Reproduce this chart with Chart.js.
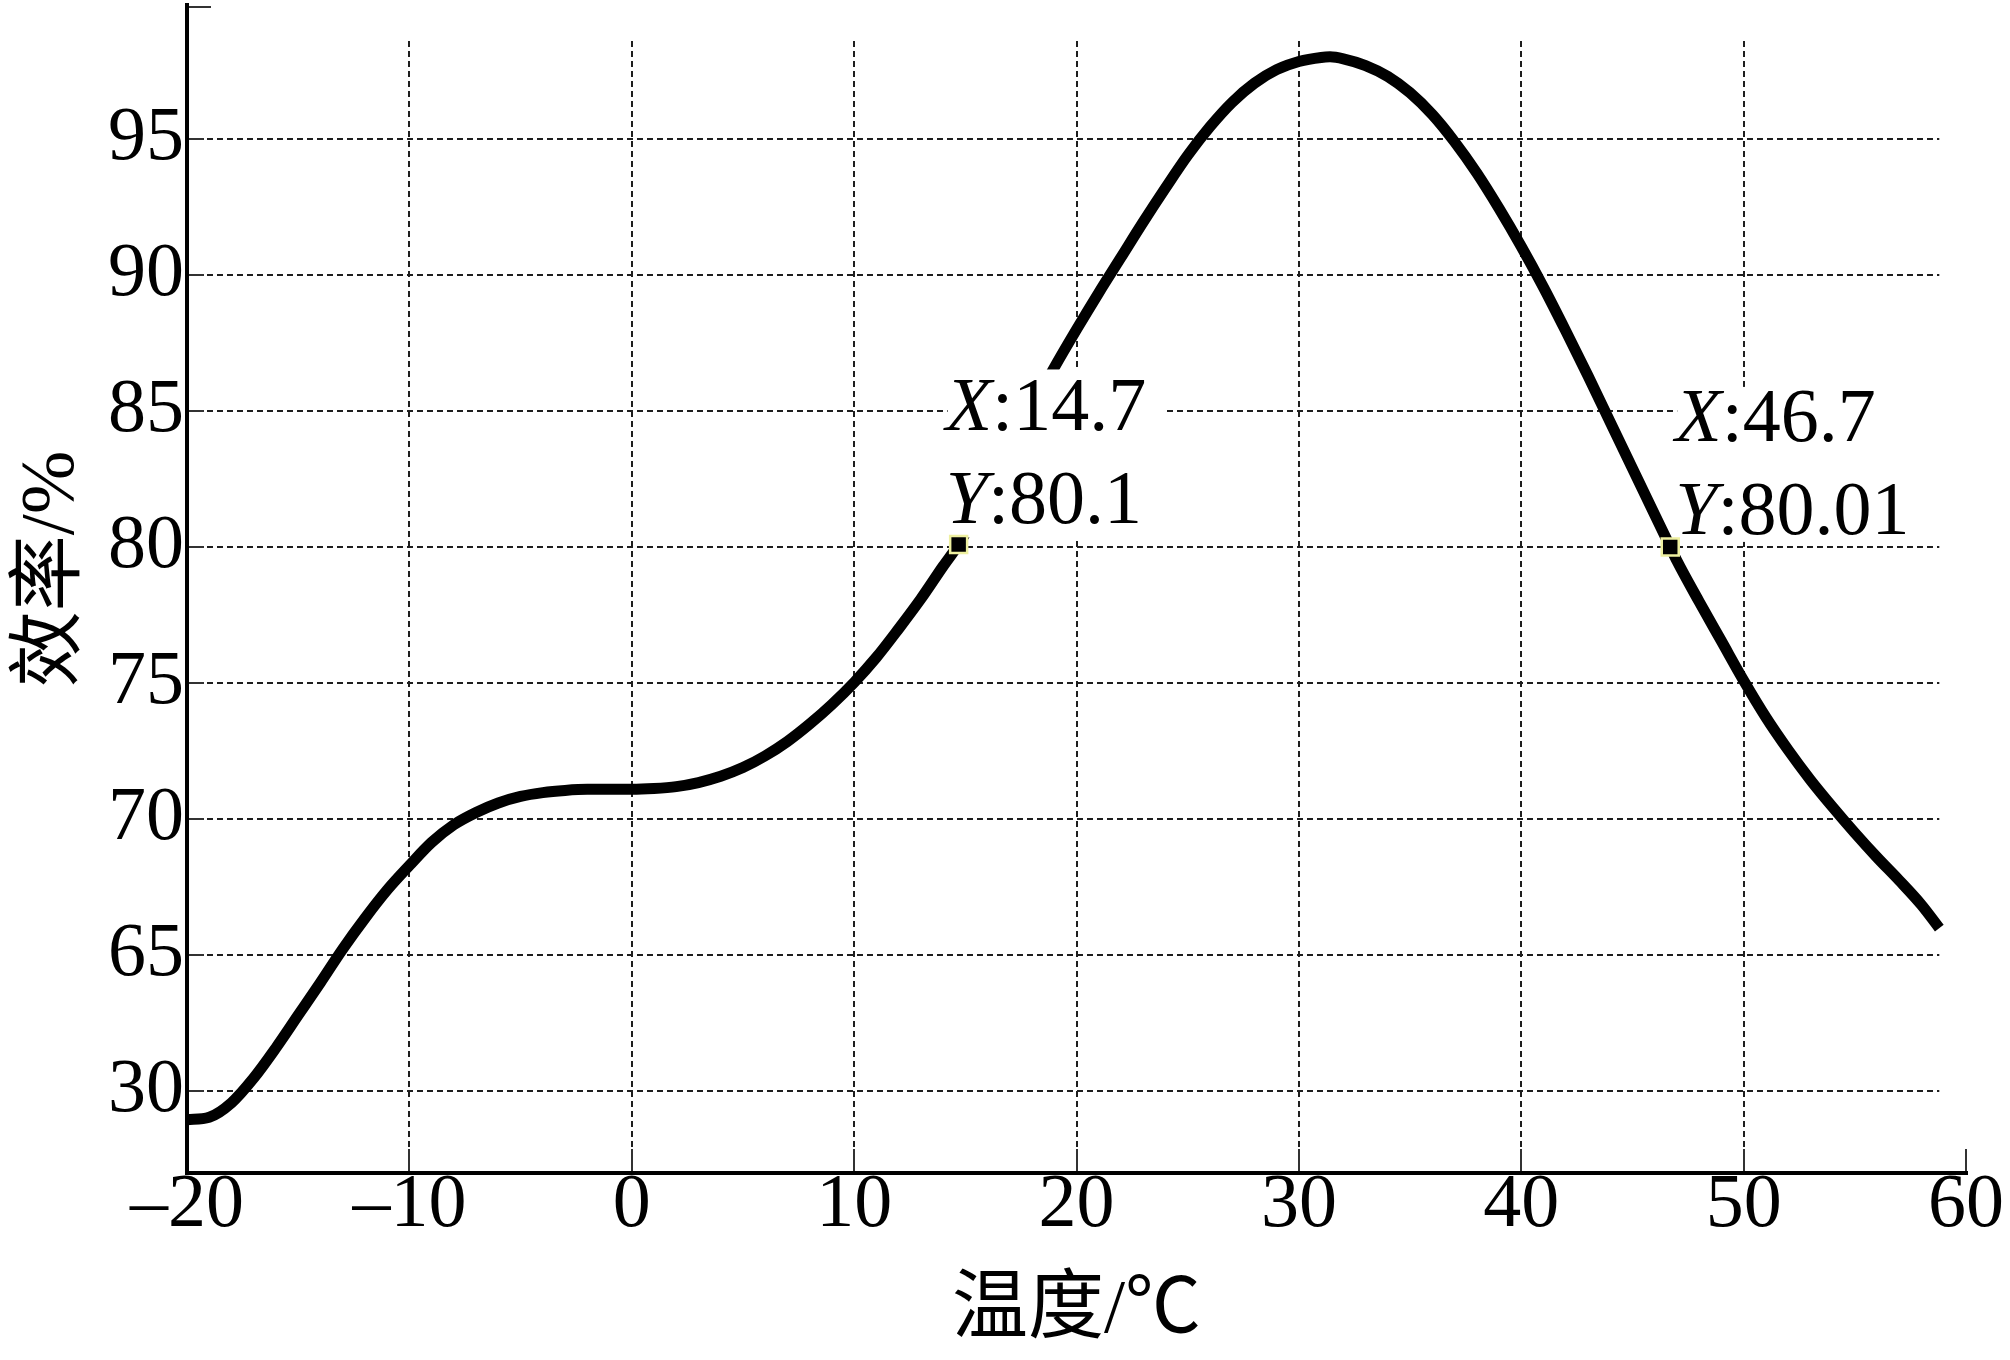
<!DOCTYPE html>
<html>
<head>
<meta charset="utf-8">
<script src="https://cdn.jsdelivr.net/npm/chart.js@4.4.1/dist/chart.umd.min.js"></script>
<style>
  html, body { margin: 0; padding: 0; background: #fff; }
  #effChartWrapper { width: 2010px; height: 1360px; }
</style>
</head>
<body>
<div id="effChartWrapper"><canvas id="effChart" width="2010" height="1360"></canvas></div>
<script>
// temperature along the curve, deg C
const temps = [-20, -19, -18, -17, -16, -15, -14, -13, -12, -11, -10, -9, -8, -7, -6, -5, -4, -3, -2, -1,
  0, 1, 2, 3, 4, 5, 6, 7, 8, 9, 10, 11, 12, 13, 14, 14.7, 15, 16, 17, 18, 19,
  20, 21, 22, 23, 24, 25, 26, 27, 28, 29, 30, 31, 31.4, 32, 33, 34, 35, 36, 37, 38, 39,
  40, 41, 42, 43, 44, 45, 46, 46.7, 47, 48, 49, 50, 51, 52, 53, 54, 55, 56, 57, 58, 58.8];
// efficiency in axis units (the bottom "30" tick sits where 60 would be)
const effs = [58.96, 59.05, 59.58, 60.49, 61.6, 62.8, 64.0, 65.23, 66.36, 67.4, 68.3, 69.15, 69.8, 70.25, 70.6, 70.84, 70.98, 71.06, 71.1, 71.1,
  71.1, 71.13, 71.2, 71.35, 71.58, 71.9, 72.33, 72.86, 73.5, 74.22, 75.03, 75.95, 77.0, 78.1, 79.3, 80.1, 80.5, 82.0, 83.55, 85.1, 86.6,
  88.0, 89.35, 90.65, 91.95, 93.2, 94.4, 95.45, 96.35, 97.05, 97.55, 97.85, 98.0, 98.02, 97.95, 97.7, 97.3, 96.7, 95.9, 94.9, 93.75, 92.45,
  91.05, 89.55, 87.95, 86.3, 84.6, 82.9, 81.2, 80.01, 79.5, 78.0, 76.55, 75.1, 73.75, 72.55, 71.45, 70.45, 69.5, 68.6, 67.75, 66.85, 66.0];

const xTicks = [-20, -10, 0, 10, 20, 30, 40, 50, 60];
const xTickLabels = ['–20', '–10', '0', '10', '20', '30', '40', '50', '60'];
const yTicks = [60, 65, 70, 75, 80, 85, 90, 95];
const yTickLabels = ['30', '65', '70', '75', '80', '85', '90', '95'];

// data tips
const markX = [14.7, 46.7];
const markY = [80.1, 80.01];
const markXText = ['14.7', '46.7'];
const markYText = ['80.1', '80.01'];

const SERIF = '"Liberation Serif", "Noto Sans CJK SC", serif';
const GRID_END = 58.8;   // horizontal grid stops short of 60
const GRID_TOP = 98.6;   // vertical grid starts below the top of the axis
// text offset from marker + white box margins, px
const tipStyle = [
  {dx: -13, dy: -114, top: 61, bottom: 14, right: 16},
  {dx: 5, dy: -106, top: 54, bottom: 8, right: 40}
];

function line(ctx, x1, y1, x2, y2) {
  ctx.beginPath();
  ctx.moveTo(x1, y1);
  ctx.lineTo(x2, y2);
  ctx.stroke();
}

const framePlugin = {
  id: 'frame',
  beforeDatasetsDraw(chart) {
    const {ctx, scales: {x, y}} = chart;
    ctx.save();
    ctx.strokeStyle = '#1e1e1e';
    ctx.lineWidth = 2;
    ctx.setLineDash([6, 4]);
    yTicks.forEach(v => {
      const py = Math.round(y.getPixelForValue(v));
      line(ctx, x.getPixelForValue(-20), py, x.getPixelForValue(GRID_END), py);
    });
    xTicks.forEach(v => {
      if (v <= -20 || v > GRID_END) return;
      const px = Math.round(x.getPixelForValue(v));
      line(ctx, px, y.getPixelForValue(GRID_TOP), px, y.getPixelForValue(57));
    });
    ctx.restore();
  },
  afterDatasetDraw(chart, args) {
    // white data-tip boxes go over the curve, under the markers
    if (args.index !== 0) return;
    const {ctx, scales: {x, y}} = chart;
    ctx.save();
    markX.forEach((mx, i) => {
      const st = tipStyle[i];
      const tx = x.getPixelForValue(mx) + st.dx;
      const b1 = y.getPixelForValue(markY[i]) + st.dy;
      const b2 = b1 + 93;
      const rows = [['X', ':' + markXText[i], b1], ['Y', ':' + markYText[i], b2]];
      let maxW = 0;
      rows.forEach(r => {
        ctx.font = 'italic 76px ' + SERIF;
        let w = ctx.measureText(r[0]).width;
        ctx.font = '76px ' + SERIF;
        w += ctx.measureText(r[1]).width;
        maxW = Math.max(maxW, w);
      });
      ctx.fillStyle = '#fff';
      ctx.fillRect(tx + 2, b1 - st.top, maxW + st.right, b2 + st.bottom - (b1 - st.top));
      ctx.fillStyle = '#000';
      ctx.textBaseline = 'alphabetic';
      rows.forEach(r => {
        ctx.font = 'italic 76px ' + SERIF;
        ctx.fillText(r[0], tx, r[2]);
        const w = ctx.measureText(r[0]).width;
        ctx.font = '76px ' + SERIF;
        ctx.fillText(r[1], tx + w, r[2]);
      });
    });
    ctx.restore();
  },
  afterDatasetsDraw(chart) {
    const {ctx, chartArea: a, scales: {x, y}} = chart;
    ctx.save();
    ctx.strokeStyle = '#333';
    ctx.lineWidth = 2;
    xTicks.forEach(v => {
      const px = Math.round(x.getPixelForValue(v));
      line(ctx, px, a.bottom, px, a.bottom - 24);
    });
    yTicks.forEach(v => {
      const py = Math.round(y.getPixelForValue(v));
      line(ctx, a.left, py, a.left + 17, py);
    });
    line(ctx, a.left, a.top + 4, a.left + 24, a.top + 4);
    ctx.strokeStyle = '#000';
    ctx.lineWidth = 4;
    line(ctx, a.left, a.top, a.left, a.bottom + 2);
    line(ctx, a.left - 2, a.bottom, a.right + 2, a.bottom);
    ctx.restore();
  }
};

const chartData = {
  datasets: [{
    label: 'efficiency',
    data: temps.map((t, i) => ({x: t, y: effs[i]})),
    borderColor: '#000',
    borderWidth: 11,
    pointRadius: 0,
    fill: false,
    cubicInterpolationMode: 'monotone',
    order: 0
  }, {
    label: 'tips',
    data: markX.map((t, i) => ({x: t, y: markY[i]})),
    showLine: false,
    pointStyle: 'rect',
    pointRadius: 12,
    pointBackgroundColor: '#000',
    pointBorderColor: '#eef0a0',
    pointBorderWidth: 2.5,
    clip: false,
    order: -1
  }]
};

const config = {
  type: 'line',
  data: chartData,
  plugins: [framePlugin],
  options: {
    responsive: false,
    animation: false,
    devicePixelRatio: 1,
    events: [],
    layout: {autoPadding: false, padding: {top: 3, right: 44, bottom: 0, left: 0}},
    plugins: {legend: {display: false}, tooltip: {enabled: false}},
    scales: {
      x: {
        type: 'linear',
        min: -20,
        max: 60,
        afterBuildTicks: s => { s.ticks = xTicks.map(v => ({value: v})); },
        afterFit: s => { s.height = 187; s.paddingLeft = 0; s.paddingRight = 0; },
        grid: {display: false, drawTicks: false},
        border: {display: false},
        ticks: {
          callback: v => xTickLabels[xTicks.indexOf(v)],
          color: '#000',
          font: {family: SERIF, size: 76, lineHeight: 0.86},
          padding: 0,
          maxRotation: 0
        },
        title: {
          display: true,
          text: '温度/℃',
          color: '#000',
          font: {family: SERIF, size: 76, lineHeight: 1.2},
          padding: {top: 0, bottom: 2}
        }
      },
      y: {
        type: 'linear',
        min: 57,
        max: 100,
        afterBuildTicks: s => { s.ticks = yTicks.map(v => ({value: v})); },
        afterFit: s => { s.width = 187; s.paddingTop = 0; s.paddingBottom = 0; },
        grid: {display: false, drawTicks: false},
        border: {display: false},
        ticks: {
          callback: v => yTickLabels[yTicks.indexOf(v)],
          color: '#000',
          font: {family: SERIF, size: 76, lineHeight: 1},
          padding: 3
        },
        title: {
          display: true,
          text: '\u2002效率/%',
          color: '#000',
          font: {family: SERIF, size: 76, lineHeight: 1.2},
          padding: {top: 7, bottom: 0}
        }
      }
    }
  }
};

new Chart(document.getElementById('effChart'), config);
</script>
</body>
</html>
